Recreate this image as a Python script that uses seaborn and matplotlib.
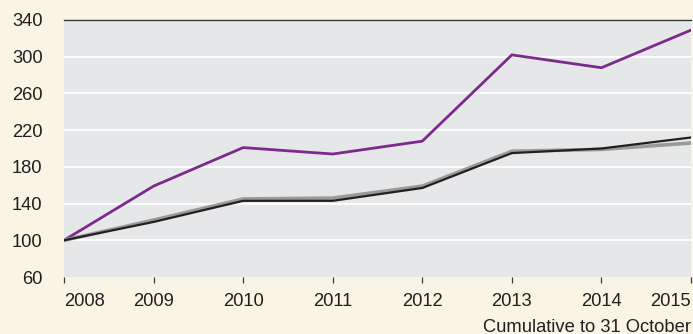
import matplotlib
matplotlib.use("Agg")
import matplotlib.pyplot as plt
import seaborn as sns
import pandas as pd

years = [2008, 2009, 2010, 2011, 2012, 2013, 2014, 2015]
purple_vals = [100, 159, 201, 194, 208, 302, 288, 329]
gray_vals = [100, 122, 145, 146, 159, 197, 199, 206]
black_vals = [100, 120, 143, 143, 157, 195, 200, 212]
y_ticks = [60, 100, 140, 180, 220, 260, 300, 340]
x_note = "Cumulative to 31 October"

df = pd.DataFrame({
    "year": years * 3,
    "value": purple_vals + gray_vals + black_vals,
    "series": ["purple"] * 8 + ["gray"] * 8 + ["black"] * 8,
})

sns.set_theme(style="white")
plt.rcParams["font.family"] = ["Liberation Sans", "DejaVu Sans"]

BG = "#f8f5e5"
FS = 13.2
fig = plt.figure(figsize=(6.93, 3.34), dpi=100, facecolor=BG)
ax = fig.add_axes([64 / 693, 1 - 277 / 334, 627 / 693, 257 / 334])
ax.set_facecolor("#e6e7e8")

palette = {"purple": "#7d2a8e", "gray": "#9a9a9a", "black": "#231f20"}
widths = {"purple": 2.0, "gray": 2.6, "black": 1.6}
for s in ["purple", "gray", "black"]:
    sns.lineplot(data=df[df.series == s], x="year", y="value", color=palette[s],
                 linewidth=widths[s], ax=ax, legend=False, zorder=3)

ax.set_xlim(2008, 2015)
ax.set_ylim(60, 340)
ax.set_yticks(y_ticks)
ax.set_xticks(years)
ax.set_xticklabels([str(y) for y in years])
ax.set_xlabel("")
ax.set_ylabel("")

for y in y_ticks[1:-1]:
    ax.axhline(y, color="white", linewidth=1.3, zorder=1)

for side in ["left", "right", "bottom"]:
    ax.spines[side].set_visible(False)
ax.spines["top"].set_visible(True)
ax.spines["top"].set_color("#3a3a3a")
ax.spines["top"].set_linewidth(1.0)

ax.tick_params(axis="y", length=0, pad=15.5, labelsize=FS, labelcolor="#231f20")
ax.tick_params(axis="x", direction="out", length=4.3, width=0.9, color="#3a3a3a",
               pad=7.5, labelsize=FS, labelcolor="#231f20", bottom=True)
labels = ax.get_xticklabels()
labels[0].set_horizontalalignment("left")
labels[-1].set_horizontalalignment("right")

fig.text(691 / 693, 1 - 327 / 334, x_note, ha="right", va="center", fontsize=FS,
         color="#231f20")

fig.savefig("out.png", dpi=100, facecolor=BG)
